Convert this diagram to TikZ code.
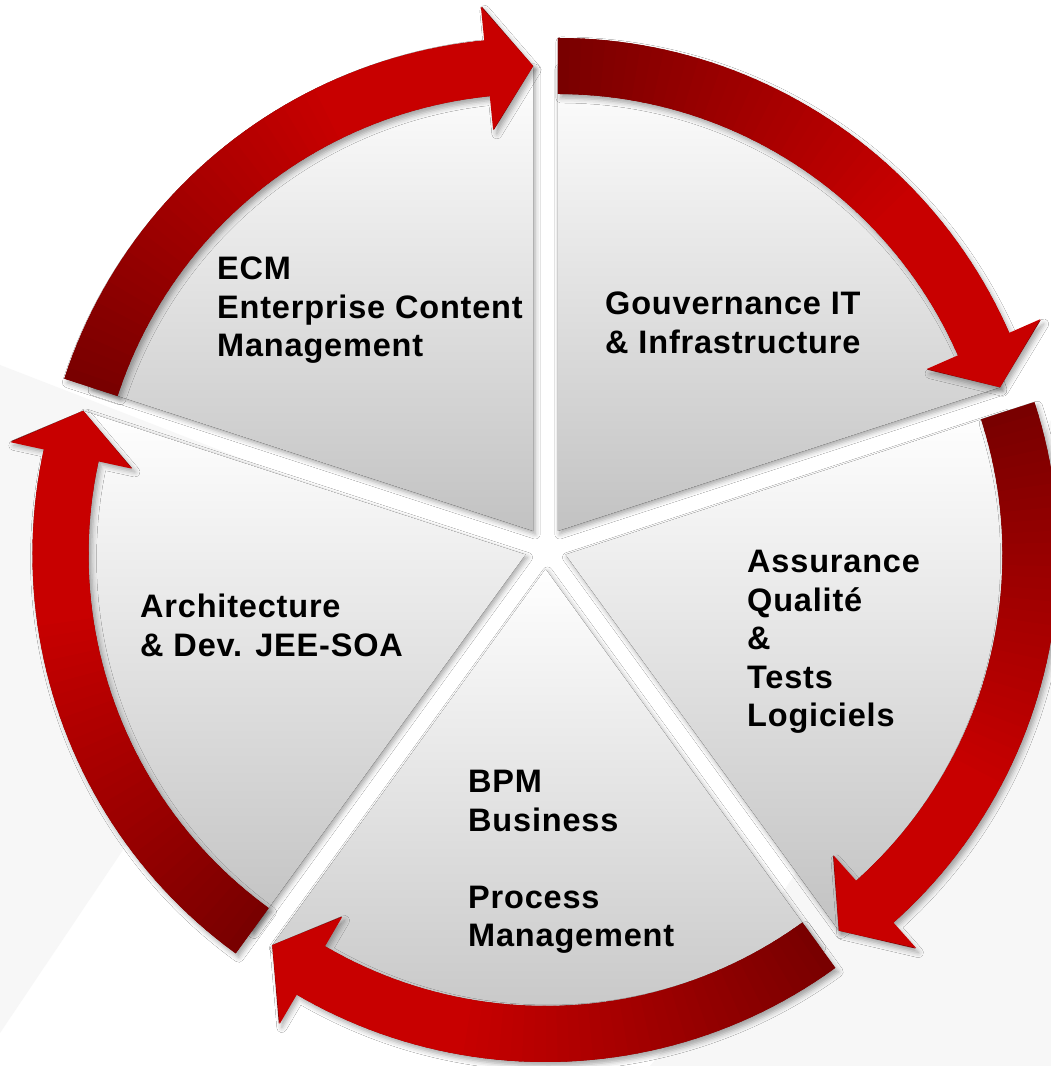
\documentclass[tikz,border=0pt]{standalone}
\usepackage{fontspec}
\newfontfamily\lblfont{Liberation Sans}[LetterSpace=2.5]
\usetikzlibrary{shadows.blur}
\definecolor{arrowdark}{RGB}{120,0,0}
\definecolor{arrowbright}{RGB}{200,0,0}
\definecolor{secgray}{RGB}{194,194,194}
\definecolor{bggray}{RGB}{247,247,247}
\tikzset{
  pieslice/.style={top color=white, bottom color=secgray,
    blur shadow={shadow xshift=2pt, shadow yshift=-3pt, shadow blur radius=5pt, shadow opacity=35}},
  arrowshape/.style={fill=arrowdark,
    blur shadow={shadow xshift=3pt, shadow yshift=-4pt, shadow blur radius=5pt, shadow opacity=35}},
  lbl/.style={font=\lblfont\bfseries\fontsize{32.5}{38.5}\selectfont, inner sep=0pt, anchor=base west, text=black}
}
% apex x, apex y, start angle
\newcommand{\drawpieslice}[3]{%
  \fill[pieslice] (#1,#2) -- ++(#3:465) arc[start angle=#3, end angle=#3+72, radius=465] -- cycle;
}
% apex x, apex y, tip angle (arrow runs clockwise from tip+72 to tip)
\newcommand{\drawarrowband}[3]{%
  \begin{scope}[shift={(#1,#2)}]
    \pgfmathsetmacro\tailA{#3+72}
    \pgfmathsetmacro\headA{#3+5.6}
    \pgfmathsetmacro\headB{#3+5.7}
    \fill[arrowshape] (\tailA:493) arc[start angle=\tailA, end angle=\headA, radius=493]
      -- (\headA:527) -- (#3:465) -- (\headA:403) -- (\headA:437)
      arc[start angle=\headA, end angle=\tailA, radius=437] -- cycle;
    \foreach \i in {0,...,47}{
      \pgfmathsetmacro\slA{\tailA-\i*(\tailA-\headA)/48}
      \pgfmathsetmacro\slB{\tailA-(\i+1)*(\tailA-\headA)/48-0.4}
      \pgfmathsetmacro\pc{min(100,100*(\i+0.5)/48/0.7)}
      \fill[arrowbright!\pc!arrowdark] (\slA:437) arc[start angle=\slA, end angle=\slB, radius=437]
        -- (\slB:493) arc[start angle=\slB, end angle=\slA, radius=493] -- cycle;
    }
    \fill[arrowbright] (\headB:527) -- (#3:465) -- (\headB:403) -- cycle;
  \end{scope}
}
\begin{document}
\begin{tikzpicture}[x=1pt,y=1pt]
\useasboundingbox (0,0) rectangle (1051,1066);
\fill[white] (0,0) rectangle (1051,1066);
% faint background areas
\fill[bggray] (0,701) -- (356,563) -- (0,33) -- cycle;
\fill[bggray] (1051,646) .. controls (960,450) and (820,200) .. (650,0) -- (1051,0) -- cycle;
% pie slices (exploded)
\drawpieslice{557.8}{535.0}{18}
\drawpieslice{533.2}{535.0}{90}
\drawpieslice{525.5}{511.5}{162}
\drawpieslice{545.5}{497.0}{234}
\drawpieslice{565.5}{511.5}{-54}
% arrows
\drawarrowband{557.8}{535.0}{18}
\drawarrowband{533.2}{535.0}{90}
\drawarrowband{525.5}{511.5}{162}
\drawarrowband{545.5}{497.0}{234}
\drawarrowband{565.5}{511.5}{-54}
% labels
\node[lbl] (ecm) at (217,786) {\parbox[t]{400pt}{ECM\\Enterprise Content\\Management}};
\node[lbl] (gouv) at (605,751) {\parbox[t]{400pt}{Gouvernance IT\\\,\& Infrastructure}};
\node[lbl] (qa) at (747,493) {\parbox[t]{300pt}{Assurance\\Qualité\\\&\\Tests\\Logiciels}};
\node[lbl] (arch) at (140,448) {\parbox[t]{400pt}{Architecture\\\& Dev. JEE-SOA}};
\node[lbl] (bpm) at (468,273) {\parbox[t]{400pt}{BPM\\Business\\\mbox{}\\Process\\Management}};
\end{tikzpicture}
\end{document}
